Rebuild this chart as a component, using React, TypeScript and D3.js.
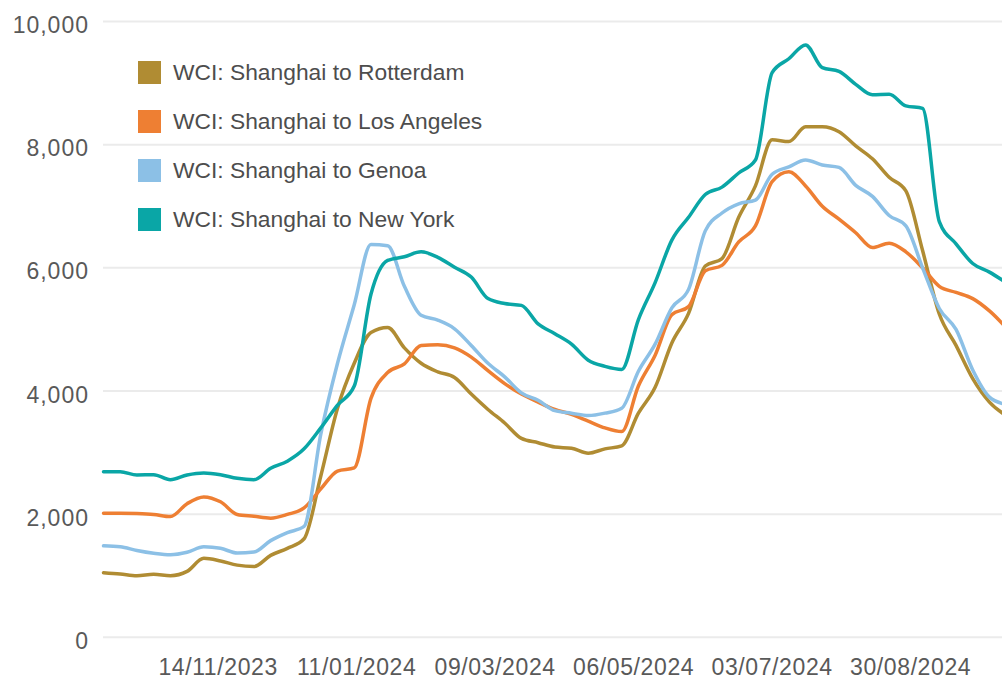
import React from "react";
import * as d3 from "d3";

// weekly WCI readings (USD per 40ft), starting 27/09/2023
const firstWeek = "27/09/2023";

const rotterdam = [
  1050, 1028, 1000, 1023, 1000, 1070, 1283, 1240, 1172, 1150, 1330, 1445, 1600,
  2620, 3720, 4450, 4950, 5030, 4700, 4450, 4310, 4220, 3950, 3700, 3480, 3230,
  3160, 3090, 3070, 2990, 3060, 3110, 3640, 4060, 4780, 5260, 6030, 6150, 6820,
  7330, 8080, 8050, 8290, 8290, 8210, 7980, 7770, 7470, 7250, 6280, 5250, 4740,
  4200, 3820, 3600,
];
const losAngeles = [
  2015, 2015, 2010, 1995, 1960, 2170, 2280, 2200, 1995, 1965, 1935, 1995, 2100,
  2410, 2700, 2750, 3880, 4300, 4440, 4740, 4750, 4700, 4550, 4330, 4120, 3950,
  3820, 3700, 3620, 3510, 3400, 3340, 4080, 4580, 5240, 5370, 5950, 6040, 6420,
  6680, 7400, 7560, 7330, 7000, 6790, 6570, 6330, 6400, 6260, 6000, 5700, 5600,
  5500, 5300, 5030,
];
const genoa = [
  1485, 1470, 1410, 1365, 1340, 1380, 1470, 1445, 1370, 1385, 1570, 1700, 1800,
  3300, 4450, 5400, 6380, 6360, 5700, 5230, 5150, 5010, 4740, 4450, 4230, 3970,
  3850, 3680, 3640, 3600, 3640, 3720, 4320, 4760, 5350, 5650, 6600, 6890, 7040,
  7100, 7520, 7640, 7750, 7670, 7630, 7340, 7160, 6850, 6680, 6000, 5340, 5000,
  4340, 3900, 3780,
];
const newYork = [
  2690, 2690, 2636, 2640, 2560, 2636, 2668, 2640, 2582, 2560, 2744, 2860, 3060,
  3400, 3770, 4080, 5570, 6120, 6180, 6260, 6170, 6010, 5850, 5500, 5420, 5390,
  5090, 4930, 4760, 4500, 4400, 4350, 5160, 5760, 6450, 6820, 7190, 7310, 7540,
  7750, 9170, 9395, 9620, 9250, 9190, 8980, 8810, 8820, 8630, 8590, 6750, 6390,
  6070, 5930, 5760,
];

const seriesNames = [
  "WCI: Shanghai to Rotterdam",
  "WCI: Shanghai to Los Angeles",
  "WCI: Shanghai to Genoa",
  "WCI: Shanghai to New York",
];
const seriesColors = ["#b08c33", "#ee7f33", "#8cc0e6", "#0aa6a6"];
const seriesValues = [rotterdam, losAngeles, genoa, newYork];

const xTickLabels = [
  "14/11/2023",
  "11/01/2024",
  "09/03/2024",
  "06/05/2024",
  "03/07/2024",
  "30/08/2024",
];
const yTicks = [0, 2000, 4000, 6000, 8000, 10000];

const W = 1002;
const H = 679;
const parse = d3.timeParse("%d/%m/%Y");
const fmt = d3.format(",");
const font = "'Liberation Sans', Arial, sans-serif";

export default function App() {
  const start = parse(firstWeek) as Date;
  const dates = rotterdam.map((_, i) => d3.timeDay.offset(start, i * 7));

  const x = d3
    .scaleTime()
    .domain([start, d3.timeDay.offset(start, 377)])
    .range([103.5, 103.5 + 377 * 2.388]);
  const y = d3.scaleLinear().domain([0, 10000]).range([637.3, 21.5]);

  const line = d3
    .line<number>()
    .x((_, i) => x(dates[i]))
    .y((d) => y(d))
    .curve(d3.curveMonotoneX);

  return (
    <svg
      width={W}
      height={H}
      style={{ position: "absolute", left: 0, top: 0, background: "#fff" }}
      fontFamily={font}
    >
      {/* grid + y labels */}
      {yTicks.map((t) => (
        <g key={t}>
          <line
            x1={103}
            x2={W}
            y1={y(t)}
            y2={y(t)}
            stroke="#ebebeb"
            strokeWidth={2}
          />
          <text
            x={89}
            y={y(t) + 3.5}
            dy="0.35em"
            textAnchor="end"
            fontSize={23}
            fill="#595959"
            letterSpacing={1}
          >
            {fmt(t)}
          </text>
        </g>
      ))}

      {/* x labels */}
      {xTickLabels.map((lab) => (
        <text
          key={lab}
          x={x(parse(lab) as Date)}
          y={675}
          textAnchor="middle"
          fontSize={23}
          fill="#595959"
          letterSpacing={0.6}
        >
          {lab}
        </text>
      ))}

      {/* series */}
      {seriesValues.map((vals, i) => (
        <path
          key={seriesNames[i]}
          d={line(vals) || ""}
          fill="none"
          stroke={seriesColors[i]}
          strokeWidth={3.5}
          strokeLinejoin="round"
          strokeLinecap="round"
        />
      ))}

      {/* legend */}
      {seriesNames.map((name, i) => (
        <g key={name} transform={`translate(138, ${61 + i * 49})`}>
          <rect width={23} height={23} fill={seriesColors[i]} />
          <text
            x={35}
            y={11.5}
            dy="0.35em"
            fontSize={22.8}
            fill="#4d4d4d"
          >
            {name}
          </text>
        </g>
      ))}
    </svg>
  );
}
